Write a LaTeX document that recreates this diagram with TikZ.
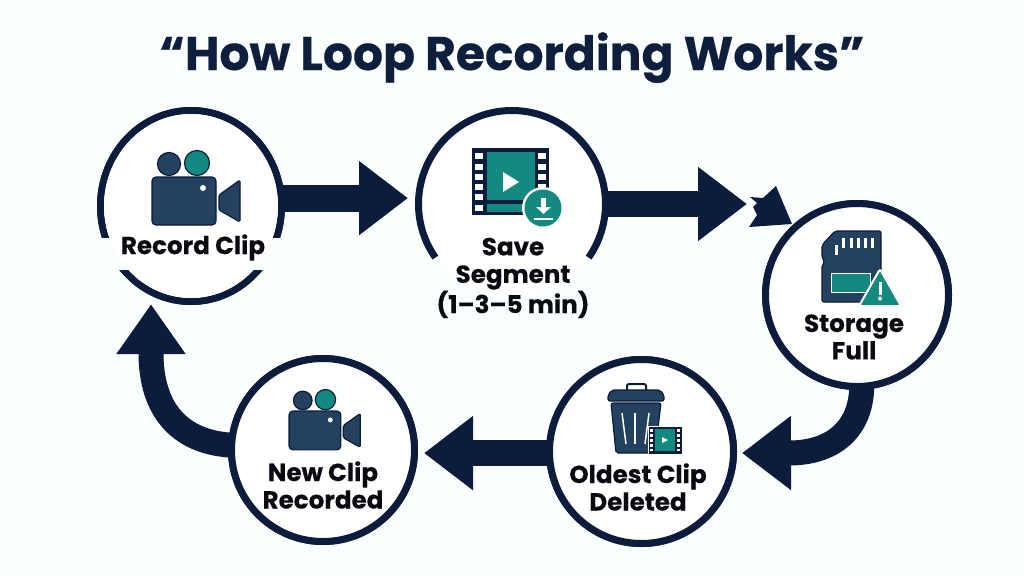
\documentclass[tikz,border=0pt]{standalone}
\usepackage{fontspec}
\setmainfont{Poppins}[BoldFeatures={FakeBold=0.35}]
\usetikzlibrary{arrows.meta,calc,shapes.geometric}
\definecolor{bgc}{HTML}{FBFEFF}
\definecolor{navy}{HTML}{0B1C3D}
\definecolor{slate}{HTML}{24415F}
\definecolor{tealc}{HTML}{14897F}
\definecolor{ink}{HTML}{0A0A12}
\definecolor{titlec}{HTML}{0D1F3C}
\tikzset{
  ringn/.style={circle,draw=navy,fill=white,line width=7pt,inner sep=0pt,outer sep=0pt,minimum size=#1},
  ringe/.style={ellipse,draw=navy,fill=white,line width=7pt,inner sep=0pt,outer sep=0pt,minimum width=181pt,minimum height=191pt},
  flow/.style={draw=navy,line width=26pt,-{Triangle[length=49pt,width=71pt]}},
  lab/.style={font=\fontsize{24.6}{27.5}\selectfont\bfseries,text=ink,align=center,inner sep=0pt},
  iconf/.style={fill=slate,draw=navy,line width=1.2pt,line join=round},
  whitel/.style={draw=white,line width=1.5pt}
}
\newcommand{\camicon}[3]{%
  \begin{scope}[shift={(#1,#2)},scale=#3]
    \fill[iconf] (17,-13) circle[radius=11.5];
    \fill[tealc,draw=navy,line width=1.2pt] (45,-14) circle[radius=12.5];
    \fill[iconf,rounded corners=4pt] (0,0) rectangle (64,48);
    \fill[white] (51,11) circle[radius=3];
    \fill[iconf,rounded corners=1.5pt] (67,18) -- (88,3) -- (88,45) -- (67,33) -- cycle;
  \end{scope}}
\begin{document}
\begin{tikzpicture}[x=1pt,y=-1pt]
\useasboundingbox (0,0) rectangle (1024,576);
\fill[bgc] (0,0) rectangle (1024,576);
% nodes (shapes first so that anchors exist; repainted after the connectors)
\node[ringe] (c1) at (191,206) {};
\node[circle,fill=white,inner sep=0pt,outer sep=0pt,minimum size=187pt] (c2) at (512,204) {};
\node[ringn=183pt] (c3) at (857,295) {};
\node[ringn=184pt] (c4) at (641.5,451.5) {};
\node[ringn=183pt] (c5) at (323,450) {};
\coordinate (a2end) at (747,204);
% connectors
\draw[flow,line width=27pt,shorten >=10.5pt] (c1.5) -- (c1.5 -| c2.west);
\draw[flow] (c2.east) -- (a2end);
\fill[navy] (750,197) -- (763,198) -- (776,186) -- (792,224) -- (749,227) -- (757,215) -- (753,207) -- (757,203) -- cycle;
\draw[flow,line width=25pt,shorten >=8.5pt] (c3.273) .. controls (861,430) and (832,453) .. (789,453) -- (c4.359);
\draw[flow,shorten >=9.5pt] (c4.181) -- (c4.181 -| c5.east);
\draw[flow,line width=25pt,-{Triangle[length=50pt,width=66pt]},shorten >=12.5pt] (c5.177) .. controls (178,442) and (151,408) .. (151,353) -- (c1.245);
% rings over the shaft starts
\node[ringe] at (c1) {};
\node[ringn=183pt] at (c3) {};
\node[ringn=184pt] at (c4) {};
\node[ringn=183pt] at (c5) {};
\fill[white] (c2) circle[radius=90];
% gap in the first ring behind its label
\fill[bgc] (92,238) rectangle (290,270);
\fill[white] (c1) ellipse[x radius=87pt,y radius=92pt];
\draw[navy,line width=7pt] (c2.215) arc[start angle=215,end angle=-35,radius=93.5pt];
% title
\node[font=\fontsize{47.2}{50}\selectfont\bfseries,text=titlec,inner sep=0pt,anchor=base] (title) at (512,70) {“How Loop Recording Works”};
% camera icons
\camicon{152}{177}{1}
\camicon{289}{411}{0.81}
% film icon
\fill[navy] (472,148) rectangle (549,215);
\fill[tealc] (487,152) rectangle (535,200);
\fill[tealc] (487,204) rectangle (535,212);
\foreach \yy in {153,163.5,173.5,183.5,194,205}{
  \fill[white] (475,\yy) rectangle (483,\yy+6);
  \fill[white] (538,\yy) rectangle (546,\yy+6);
}
\fill[white] (503,172) -- (519,182) -- (503,192) -- cycle;
\fill[white] (543,208) circle[radius=21];
\fill[tealc] (543,208) circle[radius=18.5];
\fill[white] (541,198) rectangle (546,207);
\fill[white] (536,207) -- (551,207) -- (543.5,214) -- cycle;
\fill[white] (534,217.5) rectangle (553,219.5);
% sd card
\fill[iconf,rounded corners=2pt] (835,231) -- (881,231) -- (881,302) -- (822,302) -- (822,265) -- (825,262) -- (822,258) -- (822,245) -- cycle;
\foreach \xx in {842,849.5,856.5,864,871}{\fill[white] (\xx,238) rectangle (\xx+3.2,248);}
\fill[white] (835,245) rectangle (838,255);
\fill[tealc,draw=white,line width=1pt] (831,273) rectangle (870,292);
\fill[tealc,draw=white,line width=2pt,line join=round,rounded corners=2.5pt] (880,269) -- (859,306) -- (901,306) -- cycle;
\fill[white] (878.5,282) rectangle (881.5,295);
\fill[white] (880,298.5) circle[radius=2];
% trash
\fill[iconf,rounded corners=2pt] (608,401) -- (608,395) -- (612,390) -- (660,390) -- (664,395) -- (664,401) -- cycle;
\draw[navy,line width=2pt,rounded corners=2pt] (627,390) -- (627,384) -- (646,384) -- (646,390);
\fill[iconf,rounded corners=2pt] (611,403) -- (661,403) -- (655,453) -- (616,453) -- cycle;
\draw[whitel] (622,413) -- (626,444);
\draw[whitel] (635,413) -- (635,444);
\draw[whitel] (649,413) -- (645,444);
\fill[navy,draw=white,line width=1pt] (648,426) rectangle (682,454);
\fill[tealc] (655,429) rectangle (675,451);
\foreach \yy in {429,434,439,444,448.5}{
  \fill[white] (650,\yy) rectangle (653,\yy+2.5);
  \fill[white] (677,\yy) rectangle (680,\yy+2.5);
}
\fill[white] (662,437) -- (668,440) -- (662,443) -- cycle;
% labels
\node[lab] (t1) at (193,247.5) {Record Clip};
\node[lab] (t2) at (513,278) {Save\\Segment\\(1–3–5 min)};
\node[lab] (t3) at (854,337) {Storage\\Full};
\node[lab] (t4) at (638,487) {Oldest Clip\\Deleted};
\node[lab] (t5) at (323,485) {New Clip\\Recorded};
\end{tikzpicture}
\end{document}
